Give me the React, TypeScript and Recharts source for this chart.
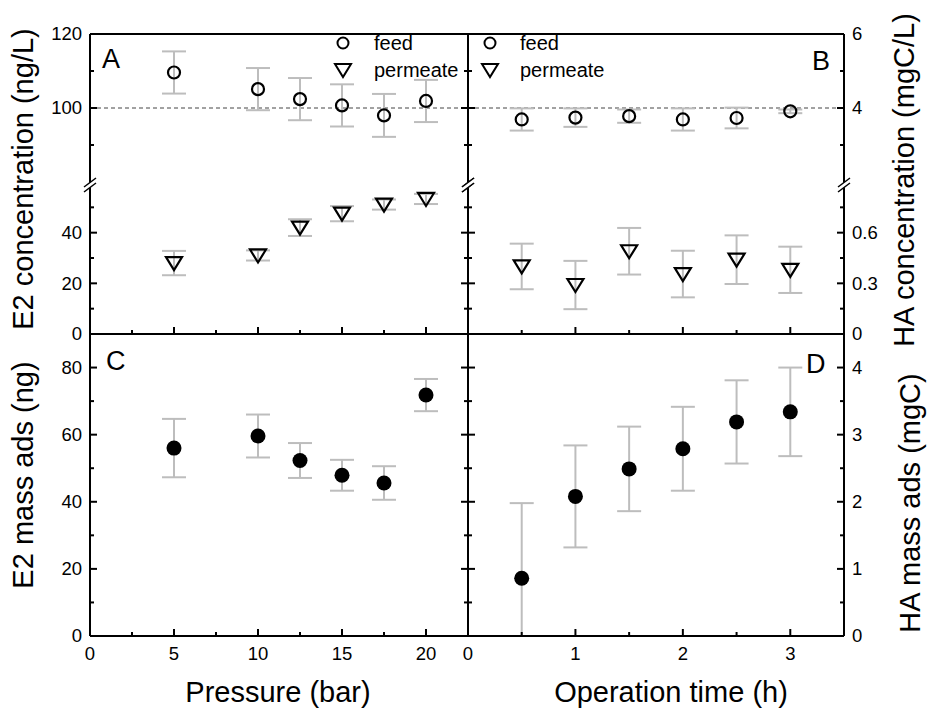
import React from "react";
import { ScatterChart, Scatter, XAxis, YAxis, ErrorBar, ReferenceLine } from "recharts";

// panels A / C: pressure series
const pressure = [5, 10, 12.5, 15, 17.5, 20];
const e2Feed = [109.6, 105.1, 102.4, 100.7, 98.0, 101.9];
const e2FeedErr = [5.7, 5.7, 5.7, 5.7, 5.8, 5.7];
const e2Perm = [28, 31, 42, 47.5, 51.1, 53.3];
const e2PermErr = [4.8, 2, 3.3, 3, 2, 2];
const e2Mass = [56.0, 59.6, 52.3, 47.9, 45.6, 71.8];
const e2MassErr = [8.7, 6.4, 5.2, 4.6, 5.0, 4.8];

// panels B / D: operation time series
const opTime = [0.5, 1, 1.5, 2, 2.5, 3];
const haFeed = [3.69, 3.74, 3.78, 3.69, 3.73, 3.91];
const haFeedErr = [0.3, 0.25, 0.18, 0.3, 0.28, 0.05];
const haPerm = [0.4, 0.29, 0.49, 0.355, 0.44, 0.38];
const haPermErr = [0.135, 0.143, 0.138, 0.138, 0.144, 0.137];
const haMass = [0.86, 2.08, 2.49, 2.79, 3.19, 3.34];
const haMassErr = [1.12, 0.76, 0.63, 0.625, 0.62, 0.66];

// axis ticks (minor + major) and labelled majors
const pressTicks = [0, 2.5, 5, 7.5, 10, 12.5, 15, 17.5, 20];
const pressMajors = [0, 5, 10, 15, 20];
const timeTicks = [0, 0.5, 1, 1.5, 2, 2.5, 3, 3.5];
const timeMajors = [0, 1, 2, 3];
const e2HiTicks = [90, 100, 110, 120];
const e2HiMajors = [100, 120];
const e2LoTicks = [0, 10, 20, 30, 40, 50, 60];
const e2LoMajors = [0, 20, 40];
const haHiTicks = [3, 4, 5, 6];
const haHiMajors = [4, 6];
const haLoTicks = [0, 0.15, 0.3, 0.45, 0.6, 0.75, 0.9];
const haLoMajors = [0, 0.3, 0.6];
const e2MassTicks = [0, 10, 20, 30, 40, 50, 60, 70, 80, 90];
const e2MassMajors = [0, 20, 40, 60, 80];
const haMassTicks = [0, 0.5, 1, 1.5, 2, 2.5, 3, 3.5, 4, 4.5];
const haMassMajors = [0, 1, 2, 3, 4];

const rows = (xs: number[], ys: number[], es: number[]) =>
  xs.map((x, i) => ({ x, y: ys[i], e: es[i] }));

const feedA = rows(pressure, e2Feed, e2FeedErr);
const permA = rows(pressure, e2Perm, e2PermErr);
const feedB = rows(opTime, haFeed, haFeedErr);
const permB = rows(opTime, haPerm, haPermErr);
const massC = rows(pressure, e2Mass, e2MassErr);
// lower bar of first D point stops at the axis
const massD = opTime.map((x, i) => ({ x, y: haMass[i], e: [Math.min(haMassErr[i], haMass[i]), haMassErr[i]] }));

const FONT = '"Liberation Sans", Arial, sans-serif';
const ERR = "#bdbdbd";

type Side = "left" | "right" | "top" | "bottom";

const BreakMark = ({ x, y }: { x: number; y: number }) => (
  <g>
    <polygon points={`${x - 6},${y + 5} ${x + 6},${y - 4} ${x + 6},${y + 1} ${x - 6},${y + 10}`} fill="#fff" />
    <line x1={x - 6} y1={y + 5} x2={x + 6} y2={y - 4} stroke="#000" strokeWidth={1.5} />
    <line x1={x - 6} y1={y + 10} x2={x + 6} y2={y + 1} stroke="#000" strokeWidth={1.5} />
  </g>
);

// inward ticks, labels outside
function makeTick(side: Side, majors: number[], showLabels: boolean, brk?: number) {
  return (props: any) => {
    const { x, y, payload } = props;
    const v = payload.value as number;
    if (brk !== undefined && Math.abs(v - brk) < 1e-9) {
      return <BreakMark x={x} y={y} />;
    }
    const major = majors.some((m) => Math.abs(m - v) < 1e-9);
    const len = major ? 7 : 4;
    const ln = { stroke: "#000", strokeWidth: 2 };
    let line = null;
    let label = null;
    const lab = major && showLabels;
    if (side === "left") {
      line = <line x1={x} y1={y} x2={x + len} y2={y} {...ln} />;
      if (lab) label = <text x={x - 8} y={y} dy="0.35em" textAnchor="end" fontSize={18.5} fontFamily={FONT} fill="#000">{v}</text>;
    } else if (side === "right") {
      line = <line x1={x} y1={y} x2={x - len} y2={y} {...ln} />;
      if (lab) label = <text x={x + 8} y={y} dy="0.35em" textAnchor="start" fontSize={18.5} fontFamily={FONT} fill="#000">{v}</text>;
    } else if (side === "bottom") {
      line = <line x1={x} y1={y} x2={x} y2={y - len} {...ln} />;
      if (lab) label = <text x={x} y={y + 24} textAnchor="middle" fontSize={18.5} fontFamily={FONT} fill="#000">{v}</text>;
    } else {
      line = <line x1={x} y1={y} x2={x} y2={y + len} {...ln} />;
    }
    return <g>{line}{label}</g>;
  };
}

const hollowCircle = (p: any) => (
  <circle cx={p.cx} cy={p.cy} r={6} fill="none" stroke="#000" strokeWidth={2.2} />
);
const hollowTri = (p: any) => (
  <path d={`M${p.cx - 8},${p.cy - 6}L${p.cx + 8},${p.cy - 6}L${p.cx},${p.cy + 7}Z`} fill="none" stroke="#000" strokeWidth={2.2} />
);
const filledCircle = (p: any) => <circle cx={p.cx} cy={p.cy} r={7.5} fill="#000" />;

type PanelProps = {
  left: number; top: number; width: number; height: number;
  xDomain: [number, number]; xTicks: number[]; xMajors: number[];
  yDomain: [number, number]; yTicks: number[]; yMajors: number[];
  showTop: boolean; showBottom: boolean; bottomLabels: boolean;
  leftLabels: boolean; rightLabels: boolean; brk?: number;
  dashAt?: number;
  children: React.ReactNode;
};

// each axis takes 1px, so the chart box is the plot box grown by 1px on every side
function Panel(p: PanelProps) {
  const axisLine = { stroke: "#000", strokeWidth: 2 };
  const W = p.width + 2;
  const H = p.height + 2;
  return (
    <div style={{ position: "absolute", left: p.left - 1, top: p.top - 1, width: W, height: H }}>
      <ScatterChart width={W} height={H} margin={{ top: 0, right: 0, bottom: 0, left: 0 }}>
        <XAxis xAxisId="b" type="number" dataKey="x" orientation="bottom" domain={p.xDomain} ticks={p.xTicks}
          allowDataOverflow height={1} tickSize={0} tickMargin={0} tickLine={false}
          axisLine={p.showBottom ? axisLine : false} interval={0}
          tick={p.showBottom ? makeTick("bottom", p.xMajors, p.bottomLabels) : false} />
        <XAxis xAxisId="t" type="number" orientation="top" domain={p.xDomain} ticks={p.xTicks}
          allowDataOverflow height={1} tickSize={0} tickMargin={0} tickLine={false}
          axisLine={p.showTop ? axisLine : false} interval={0}
          tick={p.showTop ? makeTick("top", p.xMajors, false) : false} />
        <YAxis yAxisId="l" type="number" dataKey="y" orientation="left" domain={p.yDomain} ticks={p.yTicks}
          allowDataOverflow width={1} tickSize={0} tickMargin={0} tickLine={false} axisLine={axisLine}
          interval={0} tick={makeTick("left", p.yMajors, p.leftLabels, p.brk)} />
        <YAxis yAxisId="r" type="number" orientation="right" domain={p.yDomain} ticks={p.yTicks}
          allowDataOverflow width={1} tickSize={0} tickMargin={0} tickLine={false} axisLine={axisLine}
          interval={0} tick={makeTick("right", p.yMajors, p.rightLabels, p.brk)} />
        {p.dashAt !== undefined && (
          <ReferenceLine xAxisId="b" yAxisId="l" y={p.dashAt} stroke="#444" strokeWidth={1} strokeDasharray="4 3" />
        )}
        {p.children}
      </ScatterChart>
    </div>
  );
}

const series = (data: any[], shape: any) => (
  <Scatter xAxisId="b" yAxisId="l" data={data} dataKey="y" shape={shape} isAnimationActive={false}>
    <ErrorBar dataKey="e" direction="y" width={12} stroke={ERR} strokeWidth={2} isAnimationActive={false} />
  </Scatter>
);

const LX = 90, MX = 468, RX = 844;
const TY = 34, BRK = 182, MY = 334, BY = 636;

export default function App() {
  const txt = { fontFamily: FONT, fill: "#000" };
  return (
    <div style={{ position: "absolute", left: 0, top: 0, width: 928, height: 710, background: "#fff" }}>
      <style>{`.recharts-surface{overflow:visible}`}</style>
      {/* A upper */}
      <Panel left={LX} top={TY} width={MX - LX} height={BRK - TY} xDomain={[0, 22.5]} xTicks={pressTicks} xMajors={pressMajors}
        yDomain={[80, 120]} yTicks={e2HiTicks} yMajors={e2HiMajors} showTop showBottom={false} bottomLabels={false}
        leftLabels rightLabels={false} dashAt={100}>
        {series(feedA, hollowCircle)}
      </Panel>
      {/* B upper */}
      <Panel left={MX} top={TY} width={RX - MX} height={BRK - TY} xDomain={[0, 3.5]} xTicks={timeTicks} xMajors={timeMajors}
        yDomain={[2, 6]} yTicks={haHiTicks} yMajors={haHiMajors} showTop showBottom={false} bottomLabels={false}
        leftLabels={false} rightLabels dashAt={4}>
        {series(feedB, hollowCircle)}
      </Panel>
      {/* A lower */}
      <Panel left={LX} top={BRK} width={MX - LX} height={MY - BRK} xDomain={[0, 22.5]} xTicks={pressTicks} xMajors={pressMajors}
        yDomain={[0, 60]} yTicks={e2LoTicks} yMajors={e2LoMajors} showTop={false} showBottom bottomLabels={false}
        leftLabels rightLabels={false} brk={60}>
        {series(permA, hollowTri)}
      </Panel>
      {/* B lower */}
      <Panel left={MX} top={BRK} width={RX - MX} height={MY - BRK} xDomain={[0, 3.5]} xTicks={timeTicks} xMajors={timeMajors}
        yDomain={[0, 0.9]} yTicks={haLoTicks} yMajors={haLoMajors} showTop={false} showBottom bottomLabels={false}
        leftLabels={false} rightLabels brk={0.9}>
        {series(permB, hollowTri)}
      </Panel>
      {/* C */}
      <Panel left={LX} top={MY} width={MX - LX} height={BY - MY} xDomain={[0, 22.5]} xTicks={pressTicks} xMajors={pressMajors}
        yDomain={[0, 90]} yTicks={e2MassTicks} yMajors={e2MassMajors} showTop showBottom bottomLabels
        leftLabels rightLabels={false}>
        {series(massC, filledCircle)}
      </Panel>
      {/* D */}
      <Panel left={MX} top={MY} width={RX - MX} height={BY - MY} xDomain={[0, 3.5]} xTicks={timeTicks} xMajors={timeMajors}
        yDomain={[0, 4.5]} yTicks={haMassTicks} yMajors={haMassMajors} showTop showBottom bottomLabels
        leftLabels={false} rightLabels>
        {series(massD, filledCircle)}
      </Panel>

      <svg width={928} height={710} style={{ position: "absolute", left: 0, top: 0, pointerEvents: "none" }}>
        {/* panel letters */}
        <text x={102} y={68} fontSize={27} {...txt}>A</text>
        <text x={812} y={70} fontSize={27} {...txt}>B</text>
        <text x={106} y={370} fontSize={27} {...txt}>C</text>
        <text x={806} y={373} fontSize={27} {...txt}>D</text>

        {/* legends */}
        <circle cx={343} cy={43} r={5.5} fill="none" stroke="#000" strokeWidth={2} />
        <text x={374} y={50} fontSize={20} {...txt}>feed</text>
        <path d="M335,64L351,64L343,77Z" fill="none" stroke="#000" strokeWidth={2} />
        <text x={374} y={77} fontSize={20} {...txt}>permeate</text>
        <circle cx={490} cy={43} r={5.5} fill="none" stroke="#000" strokeWidth={2} />
        <text x={520} y={50} fontSize={20} {...txt}>feed</text>
        <path d="M482,64L498,64L490,77Z" fill="none" stroke="#000" strokeWidth={2} />
        <text x={520} y={77} fontSize={20} {...txt}>permeate</text>

        {/* axis titles */}
        <text x={278} y={702} fontSize={29} textAnchor="middle" {...txt}>Pressure (bar)</text>
        <text x={671} y={702} fontSize={29} textAnchor="middle" {...txt}>Operation time (h)</text>
        <text x={33} y={179} fontSize={29} textAnchor="middle" transform="rotate(-90 33 179)" {...txt}>E2 concentration (ng/L)</text>
        <text x={33} y={475} fontSize={29} textAnchor="middle" transform="rotate(-90 33 475)" {...txt}>E2 mass ads (ng)</text>
        <text x={914} y={180} fontSize={29} textAnchor="middle" transform="rotate(-90 914 180)" {...txt}>HA concentration (mgC/L)</text>
        <text x={920} y={503} fontSize={29} textAnchor="middle" transform="rotate(-90 920 503)" {...txt}>HA mass ads (mgC)</text>
      </svg>
    </div>
  );
}
